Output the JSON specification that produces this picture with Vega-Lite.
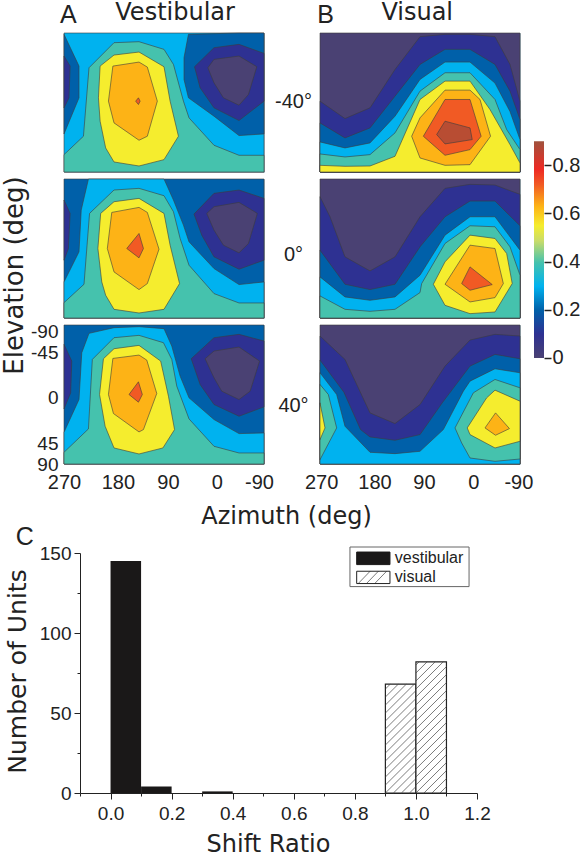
{"$schema":"https://vega.github.io/schema/vega-lite/v6.json","padding":{"left":0,"top":0,"right":0,"bottom":0},"background":"white","config":{"view":{"stroke":"#a9bcc6","strokeWidth":1},"font":"Liberation Sans"},"spacing":-4,"vconcat":[{"spacing":0,"hconcat":[{"columns":2,"bounds":"flush","spacing":{"row":7,"column":56},"concat":[
{"width":200,"height":139,"encoding":{"x":{"field":"az","type":"quantitative","scale":{"domain":[270,-90]},"axis":null},"y":{"field":"el","type":"quantitative","scale":{"domain":[0,416],"reverse":true},"axis":null}},"layer":[{"data":{"values":[
{"p":0,"l":0.3,"az":[270,-90,-90,270],"el":[0,0,416,416]},
{"p":1,"l":0.2,"az":[270,243,243,270],"el":[4,99,194,302]},
{"p":2,"l":0.1,"az":[270,259,261,270],"el":[69,99,194,224]},
{"p":3,"l":0.2,"az":[46,54,54,46,0,-45,-90,-90,-45],"el":[4,74,139,194,249,307,302,0,0]},
{"p":4,"l":0.1,"az":[35,0,-45,-90,-90,-45,0,25],"el":[101,44,34,61,204,262,224,164]},
{"p":5,"l":0,"az":[11,0,-45,-77,-62,-45,-17,0],"el":[104,79,69,101,184,216,194,149]},
{"p":6,"l":0.4,"az":[270,235,225,180,135,90,73,55,45,0,-45,-90,-90,270],"el":[364,309,104,29,26,49,94,204,254,336,366,366,416,416]},
{"p":7,"l":0.5,"az":[205,180,135,90,79,64,90,135,180,195,205,208],"el":[99,66,57,101,204,309,379,398,386,344,264,194]},
{"p":8,"l":0.6,"az":[182,135,120,102,120,135,180,190],"el":[99,87,102,204,309,321,269,204]},
{"p":9,"l":0.7,"az":[141,136,133,136],"el":[204,194,204,214]}
]},"transform":[{"flatten":["az","el"]}],"mark":{"type":"line","order":false,"interpolate":"linear-closed","stroke":"#3c3c3c","strokeWidth":0.6},"encoding":{"detail":{"field":"p"},"fill":{"field":"l","type":"nominal","legend":null,"scale":{"domain":[0,0.1,0.2,0.3,0.4,0.5,0.6,0.7,0.8],"range":["#4a4173","#2e3192","#0060a9","#00b2ef","#45c2ad","#f5ed2e","#fdb316","#f15a24","#b84d33"]}}}},
{"data":{"values":[{"t":"A","az":277,"el":-54}]},"mark":{"type":"text","font":"Liberation Sans","fontSize":25,"align":"left","baseline":"middle","color":"#222","clip":false},"encoding":{"text":{"field":"t"}}},
{"data":{"values":[{"t":"Vestibular","az":70,"el":-60}]},"mark":{"type":"text","font":"DejaVu Sans","fontSize":24,"align":"center","baseline":"middle","color":"#222","clip":false},"encoding":{"text":{"field":"t"}}}]},
{"width":200,"height":139,"encoding":{"x":{"field":"az","type":"quantitative","scale":{"domain":[270,-90]},"axis":null},"y":{"field":"el","type":"quantitative","scale":{"domain":[0,416],"reverse":true},"axis":{"title":"-40°","titleAngle":0,"titleFont":"Liberation Sans","titleFontSize":20,"titleFontWeight":"normal","titleColor":"#222","titleX":-27,"titleY":78,"titleAlign":"center","labels":false,"ticks":false,"domain":false,"grid":false}}},"layer":[{"data":{"values":[
{"p":0,"l":0,"az":[270,-90,-90,270],"el":[0,0,416,416]},
{"p":1,"l":0.1,"az":[270,225,180,135,90,45,0,-45,-72,-90,-90,270],"el":[204,256,224,109,11,4,4,11,94,204,416,416]},
{"p":2,"l":0.2,"az":[270,225,180,135,90,45,0,-45,-72,-90,-90,270],"el":[269,314,284,189,94,49,49,94,174,259,416,416]},
{"p":3,"l":0.3,"az":[270,225,180,135,90,45,0,-45,-72,-90,-90,270],"el":[326,344,329,249,139,87,87,150,235,319,416,416]},
{"p":4,"l":0.4,"az":[270,225,180,135,90,45,0,-45,-66,-90,-90,270],"el":[362,371,364,299,174,119,119,199,289,349,416,416]},
{"p":5,"l":0.5,"az":[270,225,180,135,90,45,0,-36,-72,-90,-90,270],"el":[396,399,398,369,199,144,144,229,334,389,416,416]},
{"p":6,"l":0.6,"az":[105,90,45,0,-18,-37,0,45,90],"el":[309,254,171,171,199,309,394,396,374]},
{"p":7,"l":0.7,"az":[84,45,0,-20,0,45],"el":[309,199,199,309,349,366]},
{"p":8,"l":0.8,"az":[60,45,0,-4,45],"el":[304,264,284,319,332]}
]},"transform":[{"flatten":["az","el"]}],"mark":{"type":"line","order":false,"interpolate":"linear-closed","stroke":"#3c3c3c","strokeWidth":0.6},"encoding":{"detail":{"field":"p"},"fill":{"field":"l","type":"nominal","legend":null,"scale":{"domain":[0,0.1,0.2,0.3,0.4,0.5,0.6,0.7,0.8],"range":["#4a4173","#2e3192","#0060a9","#00b2ef","#45c2ad","#f5ed2e","#fdb316","#f15a24","#b84d33"]}}}},
{"data":{"values":[{"t":"B","az":275,"el":-54}]},"mark":{"type":"text","font":"Liberation Sans","fontSize":25,"align":"left","baseline":"middle","color":"#222","clip":false},"encoding":{"text":{"field":"t"}}},
{"data":{"values":[{"t":"Visual","az":95,"el":-60}]},"mark":{"type":"text","font":"DejaVu Sans","fontSize":24,"align":"center","baseline":"middle","color":"#222","clip":false},"encoding":{"text":{"field":"t"}}}]},
{"width":200,"height":139,"data":{"values":[
{"p":0,"l":0.2,"az":[270,-90,-90,270],"el":[0,0,416,416]},
{"p":1,"l":0.3,"az":[226,90,73,55,45,0,-45,-90,-90,270,270,243,239],"el":[0,0,63,138,188,268,316,308,416,416,308,218,93]},
{"p":2,"l":0.1,"az":[270,259,262,270],"el":[63,103,208,243]},
{"p":3,"l":0.1,"az":[36,0,-45,-90,-90,-45,0,22],"el":[105,43,33,58,243,270,233,168]},
{"p":4,"l":0,"az":[13,0,-45,-78,-62,-45,-17,0],"el":[103,83,70,103,193,221,198,153]},
{"p":5,"l":0.4,"az":[270,234,224,180,135,90,73,61,45,0,-45,-90,-90,270],"el":[370,315,103,33,28,50,98,178,258,343,371,371,416,416]},
{"p":6,"l":0.5,"az":[204,180,135,90,79,62,90,135,180,195,202,209],"el":[103,68,58,103,198,313,390,401,390,348,308,208]},
{"p":7,"l":0.6,"az":[184,135,120,99,120,135,180,192],"el":[100,85,100,210,313,331,278,208]},
{"p":8,"l":0.7,"az":[157,135,127,135],"el":[208,163,208,236]}
]},"transform":[{"flatten":["az","el"]}],"mark":{"type":"line","order":false,"interpolate":"linear-closed","stroke":"#3c3c3c","strokeWidth":0.6},"encoding":{"x":{"field":"az","type":"quantitative","scale":{"domain":[270,-90]},"axis":null},"y":{"field":"el","type":"quantitative","scale":{"domain":[0,416],"reverse":true},"axis":null},"detail":{"field":"p"},"fill":{"field":"l","type":"nominal","legend":null,"scale":{"domain":[0,0.1,0.2,0.3,0.4,0.5,0.6,0.7,0.8],"range":["#4a4173","#2e3192","#0060a9","#00b2ef","#45c2ad","#f5ed2e","#fdb316","#f15a24","#b84d33"]}}}},
{"width":200,"height":139,"data":{"values":[
{"p":0,"l":0,"az":[270,-90,-90,270],"el":[0,0,416,416]},
{"p":1,"l":0.1,"az":[270,252,225,180,135,90,45,0,-45,-90,-90,270],"el":[53,113,233,275,233,113,28,16,18,46,416,416]},
{"p":2,"l":0.2,"az":[270,225,180,135,90,45,0,-45,-90,-90,270],"el":[213,315,331,315,203,113,66,66,140,416,416]},
{"p":3,"l":0.3,"az":[270,225,180,135,90,45,0,-45,-90,-90,270],"el":[293,353,363,353,288,168,113,113,213,416,416]},
{"p":4,"l":0.4,"az":[270,225,180,135,90,87,45,0,-45,-72,-90,-90,270],"el":[350,390,396,390,340,313,193,140,143,203,288,416,416]},
{"p":5,"l":0.5,"az":[66,45,0,-45,-66,-76,-45,0,45],"el":[315,248,168,178,223,313,398,403,378]},
{"p":6,"l":0.6,"az":[45,0,-45,-60,-45,0],"el":[315,198,208,313,355,368]},
{"p":7,"l":0.7,"az":[15,0,-40,0],"el":[313,263,316,333]}
]},"transform":[{"flatten":["az","el"]}],"mark":{"type":"line","order":false,"interpolate":"linear-closed","stroke":"#3c3c3c","strokeWidth":0.6},"encoding":{"x":{"field":"az","type":"quantitative","scale":{"domain":[270,-90]},"axis":null},"y":{"field":"el","type":"quantitative","scale":{"domain":[0,416],"reverse":true},"axis":{"title":"0°","titleAngle":0,"titleFont":"Liberation Sans","titleFontSize":20,"titleFontWeight":"normal","titleColor":"#222","titleX":-27,"titleY":85,"titleAlign":"center","labels":false,"ticks":false,"domain":false,"grid":false}},"detail":{"field":"p"},"fill":{"field":"l","type":"nominal","legend":null,"scale":{"domain":[0,0.1,0.2,0.3,0.4,0.5,0.6,0.7,0.8],"range":["#4a4173","#2e3192","#0060a9","#00b2ef","#45c2ad","#f5ed2e","#fdb316","#f15a24","#b84d33"]}}}},
{"width":200,"height":139,"data":{"values":[
{"p":0,"l":0.2,"az":[270,-90,-90,270],"el":[0,0,416,416]},
{"p":1,"l":0.3,"az":[225,180,135,90,76,61,45,0,-45,-90,-90,270,270,243,238],"el":[25,8,5,11,63,153,218,283,325,323,416,416,321,223,83]},
{"p":2,"l":0.1,"az":[270,256,258,270],"el":[58,108,203,251]},
{"p":3,"l":0.1,"az":[41,0,-45,-90,-90,-45,0,25],"el":[101,38,28,48,245,273,238,178]},
{"p":4,"l":0,"az":[16,0,-45,-82,-65,-45,-14,0],"el":[101,78,66,108,198,223,198,158]},
{"p":5,"l":0.4,"az":[270,226,219,180,135,91,76,67,45,0,-45,-90,-90,270],"el":[381,311,103,38,31,53,103,183,281,363,383,383,416,416]},
{"p":6,"l":0.5,"az":[199,180,135,96,82,71,92,135,180,196,206],"el":[101,71,61,108,213,313,368,386,368,303,208]},
{"p":7,"l":0.6,"az":[182,135,121,103,127,135,181,190],"el":[100,90,105,205,313,320,265,208]},
{"p":8,"l":0.7,"az":[153,136,129,136],"el":[208,170,208,231]}
]},"transform":[{"flatten":["az","el"]}],"mark":{"type":"line","order":false,"interpolate":"linear-closed","stroke":"#3c3c3c","strokeWidth":0.6},"encoding":{"x":{"field":"az","type":"quantitative","scale":{"domain":[270,-90]},"axis":{"title":"Azimuth (deg)","titleFont":"DejaVu Sans","titleFontSize":24,"titleFontWeight":"normal","titleColor":"#222","titleX":222,"titleY":40,"values":[270,173,83,-5,-81],"labelExpr":"datum.value>220?'270':datum.value>100?'180':datum.value>40?'90':datum.value>-40?'0':'-90'","labelFontSize":20,"labelColor":"#222","labelPadding":8,"labelOverlap":false,"labelBound":false,"labelFlush":false,"ticks":false,"domain":false,"grid":false}},"y":{"field":"el","type":"quantitative","scale":{"domain":[0,416],"reverse":true},"axis":{"title":"Elevation (deg)","titleFont":"DejaVu Sans","titleFontSize":26,"titleFontWeight":"normal","titleColor":"#222","titleAngle":-90,"titleX":-37,"titleY":-50,"values":[18,81,216,354,416],"labelExpr":"datum.value<40?'-90':datum.value<100?'-45':datum.value<300?'0':datum.value<400?'45':'90'","labelFontSize":19,"labelColor":"#222","labelPadding":6,"labelOverlap":false,"labelBound":false,"labelFlush":false,"ticks":false,"domain":false,"grid":false}},"detail":{"field":"p"},"fill":{"field":"l","type":"nominal","legend":null,"scale":{"domain":[0,0.1,0.2,0.3,0.4,0.5,0.6,0.7,0.8],"range":["#4a4173","#2e3192","#0060a9","#00b2ef","#45c2ad","#f5ed2e","#fdb316","#f15a24","#b84d33"]}}}},
{"width":200,"height":139,"data":{"values":[
{"p":0,"l":0,"az":[270,-90,-90,270],"el":[0,0,416,416]},
{"p":1,"l":0.1,"az":[270,225,180,135,90,45,0,-45,-90,-90,270],"el":[33,103,263,295,238,123,45,28,33,416,416]},
{"p":2,"l":0.2,"az":[270,227,197,180,135,90,50,0,-45,-90,-90,270],"el":[105,201,313,335,345,328,233,123,88,101,416,416]},
{"p":3,"l":0.3,"az":[270,240,225,180,135,90,48,12,0,-45,-90,-90,270],"el":[143,208,303,381,385,378,313,198,168,131,143,416,416]},
{"p":4,"l":0.4,"az":[27,-6,-45,-90,-90,-45,0,15],"el":[308,203,163,188,401,408,398,353]},
{"p":5,"l":0.5,"az":[5,-30,-45,-90,-90,-45,0],"el":[308,218,195,228,348,368,328]},
{"p":6,"l":0.6,"az":[-27,-46,-71,-46],"el":[308,263,310,330]},
{"p":7,"l":0.4,"az":[270,255,240,270],"el":[178,208,308,403]},
{"p":8,"l":0.5,"az":[270,261,270],"el":[233,308,343]}
]},"transform":[{"flatten":["az","el"]}],"mark":{"type":"line","order":false,"interpolate":"linear-closed","stroke":"#3c3c3c","strokeWidth":0.6},"encoding":{"x":{"field":"az","type":"quantitative","scale":{"domain":[270,-90]},"axis":{"title":null,"values":[268,172,83,-6,-87],"labelExpr":"datum.value>220?'270':datum.value>100?'180':datum.value>40?'90':datum.value>-40?'0':'-90'","labelFontSize":20,"labelColor":"#222","labelPadding":8,"labelOverlap":false,"labelBound":false,"labelFlush":false,"ticks":false,"domain":false,"grid":false}},"y":{"field":"el","type":"quantitative","scale":{"domain":[0,416],"reverse":true},"axis":{"title":"40°","titleAngle":0,"titleFont":"Liberation Sans","titleFontSize":20,"titleFontWeight":"normal","titleColor":"#222","titleX":-27,"titleY":90,"titleAlign":"center","labels":false,"ticks":false,"domain":false,"grid":false}},"detail":{"field":"p"},"fill":{"field":"l","type":"nominal","legend":null,"scale":{"domain":[0,0.1,0.2,0.3,0.4,0.5,0.6,0.7,0.8],"range":["#4a4173","#2e3192","#0060a9","#00b2ef","#45c2ad","#f5ed2e","#fdb316","#f15a24","#b84d33"]}}}}
]},
{"width":10,"height":430,"view":{"stroke":null},"data":{"values":[{"lo":0,"hi":0.9}]},"mark":{"type":"rect","color":{"gradient":"linear","x1":0,"y1":1,"x2":0,"y2":0,"stops":[{"offset":0,"color":"#4a4173"},{"offset":0.11,"color":"#2e3192"},{"offset":0.22,"color":"#0060a9"},{"offset":0.33,"color":"#00b2ef"},{"offset":0.44,"color":"#45c2ad"},{"offset":0.54,"color":"#c9dc6a"},{"offset":0.61,"color":"#f5ed2e"},{"offset":0.7,"color":"#fdb316"},{"offset":0.8,"color":"#f15a24"},{"offset":0.87,"color":"#ee2a24"},{"offset":1,"color":"#a0523d"}]}},"encoding":{"x":{"value":0},"x2":{"value":10},"y":{"field":"lo","type":"quantitative","scale":{"domain":[-0.436,1.349]},"axis":{"orient":"right","title":null,"values":[0,0.2,0.4,0.6,0.8],"labelExpr":"datum.value==0?'0':format(datum.value,'.1f')","labelFontSize":20,"labelColor":"#222","tickColor":"#222","tickSize":7,"tickWidth":1.5,"labelPadding":1,"domain":false,"grid":false}},"y2":{"field":"hi"}}}]},
{"bounds":"flush","spacing":15,"hconcat":[
{"width":1,"height":1,"view":{"stroke":null},"data":{"values":[{"a":0}]},"mark":{"type":"point","opacity":0},"encoding":{}},
{"width":397,"height":240,"view":{"stroke":null},"encoding":{"x":{"field":"a","type":"quantitative","scale":{"domain":[-0.1,1.2],"nice":false},"axis":{"title":"Shift Ratio","titleFont":"DejaVu Sans","titleFontSize":24,"titleFontWeight":"normal","titleColor":"#222","titleY":39,"titleX":188,"values":[-0.1,0,0.1,0.2,0.3,0.4,0.5,0.6,0.7,0.8,0.9,1,1.1,1.2],"labelExpr":"round(datum.value*10)%2==0?format(datum.value,'.1f'):''","labelFontSize":19,"labelColor":"#222","labelPadding":5,"labelOverlap":false,"labelFlush":false,"labelBound":false,"tickColor":"#222","domainColor":"#222","tickSize":{"condition":{"test":"round(datum.value*10)%2==0","value":6},"value":3},"grid":false}},"y":{"field":"b","type":"quantitative","scale":{"domain":[0,150],"nice":false},"axis":{"title":"Number of Units","titleFont":"DejaVu Sans","titleFontSize":25,"titleFontWeight":"normal","titleColor":"#222","titleX":-50,"titleY":118,"values":[0,25,50,75,100,125,150],"labelExpr":"datum.value%50==0?datum.value:''","labelFontSize":19,"labelColor":"#222","labelPadding":3,"labelOverlap":false,"labelFlush":false,"labelBound":false,"tickColor":"#222","domainColor":"#222","tickSize":{"condition":{"test":"datum.value%50==0","value":6},"value":3},"grid":false}}},"layer":[
{"data":{"values":[{"a":0,"c":0.1,"b":145,"d":0},{"a":0.1,"c":0.2,"b":4,"d":0},{"a":0.3,"c":0.4,"b":1,"d":0}]},"mark":{"type":"rect","color":"#1a1818"},"encoding":{"x2":{"field":"c"},"y2":{"field":"d"}}},
{"data":{"values":[{"a":0.9,"c":1,"b":68,"d":0},{"a":1,"c":1.1,"b":82,"d":0}]},"mark":{"type":"rect","fill":"white","stroke":"#222","strokeWidth":1.2},"encoding":{"x2":{"field":"c"},"y2":{"field":"d"}}},
{"data":{"values":[
{"a":0.9789,"b":0,"c":1,"d":4},{"a":0.9526,"b":0,"c":1,"d":9},{"a":0.9263,"b":0,"c":1,"d":14},{"a":0.9,"b":0,"c":1,"d":19},{"a":0.9,"b":5,"c":1,"d":24},{"a":0.9,"b":10,"c":1,"d":29},{"a":0.9,"b":15,"c":1,"d":34},{"a":0.9,"b":20,"c":1,"d":39},{"a":0.9,"b":25,"c":1,"d":44},{"a":0.9,"b":30,"c":1,"d":49},{"a":0.9,"b":35,"c":1,"d":54},{"a":0.9,"b":40,"c":1,"d":59},{"a":0.9,"b":45,"c":1,"d":64},{"a":0.9,"b":50,"c":0.9947,"d":68},{"a":0.9,"b":55,"c":0.9684,"d":68},{"a":0.9,"b":60,"c":0.9421,"d":68},{"a":0.9,"b":65,"c":0.9158,"d":68},
{"a":1.0789,"b":0,"c":1.1,"d":4},{"a":1.0526,"b":0,"c":1.1,"d":9},{"a":1.0263,"b":0,"c":1.1,"d":14},{"a":1,"b":0,"c":1.1,"d":19},{"a":1,"b":5,"c":1.1,"d":24},{"a":1,"b":10,"c":1.1,"d":29},{"a":1,"b":15,"c":1.1,"d":34},{"a":1,"b":20,"c":1.1,"d":39},{"a":1,"b":25,"c":1.1,"d":44},{"a":1,"b":30,"c":1.1,"d":49},{"a":1,"b":35,"c":1.1,"d":54},{"a":1,"b":40,"c":1.1,"d":59},{"a":1,"b":45,"c":1.1,"d":64},{"a":1,"b":50,"c":1.1,"d":69},{"a":1,"b":55,"c":1.1,"d":74},{"a":1,"b":60,"c":1.1,"d":79},{"a":1,"b":65,"c":1.0895,"d":82},{"a":1,"b":70,"c":1.0632,"d":82},{"a":1,"b":75,"c":1.0368,"d":82},{"a":1,"b":80,"c":1.0105,"d":82},
{"a":0.811,"b":130.9,"c":0.85,"d":138.6},{"a":0.838,"b":130.9,"c":0.877,"d":138.6},{"a":0.865,"b":130.9,"c":0.904,"d":138.6}
]},"mark":{"type":"rule","color":"#444","strokeWidth":0.7},"encoding":{"x2":{"field":"c"},"y2":{"field":"d"}}},
{"data":{"values":[{"a":0.784,"c":1.174,"b":129,"d":153.75}]},"mark":{"type":"rect","fill":"transparent","stroke":"#666","strokeWidth":1,"clip":false},"encoding":{"x2":{"field":"c"},"y2":{"field":"d"}}},
{"data":{"values":[{"a":0.806,"c":0.915,"b":142.75,"d":150.6}]},"mark":{"type":"rect","fill":"#1a1818","stroke":"#1a1818"},"encoding":{"x2":{"field":"c"},"y2":{"field":"d"}}},
{"data":{"values":[{"a":0.806,"c":0.915,"b":130.9,"d":138.6}]},"mark":{"type":"rect","fill":"transparent","stroke":"#222","strokeWidth":1},"encoding":{"x2":{"field":"c"},"y2":{"field":"d"}}},
{"data":{"values":[{"a":0.931,"b":146.7,"t":"vestibular"},{"a":0.931,"b":134.8,"t":"visual"}]},"mark":{"type":"text","align":"left","baseline":"middle","fontSize":16,"color":"#222","font":"Liberation Sans"},"encoding":{"text":{"field":"t"}}},
{"data":{"values":[{"a":-0.31,"b":160,"t":"C"}]},"mark":{"type":"text","align":"left","baseline":"middle","fontSize":25,"color":"#222","font":"Liberation Sans","clip":false},"encoding":{"text":{"field":"t"}}}
]}]}]}
